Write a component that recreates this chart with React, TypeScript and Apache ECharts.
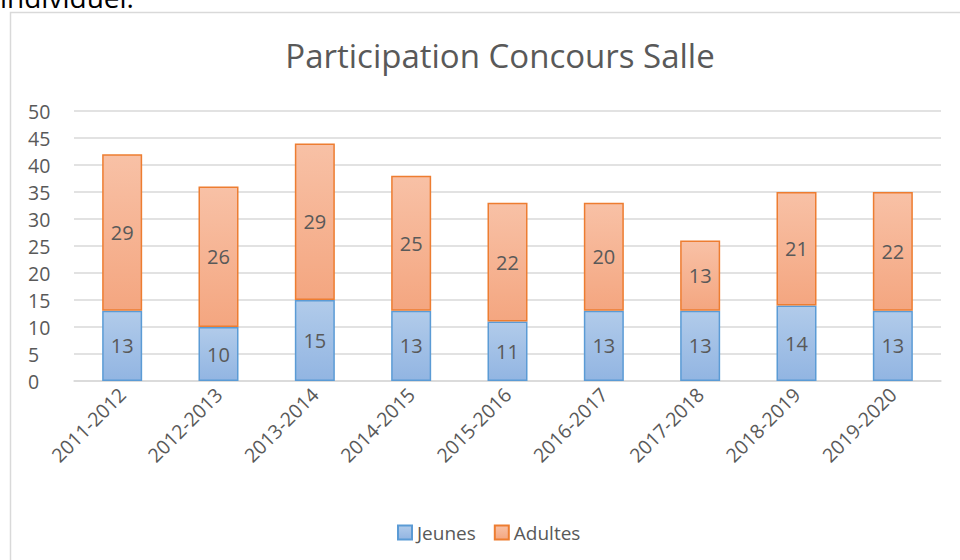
import React, { useEffect, useRef } from "react";
import * as echarts from "echarts";

const categories = ["2011-2012", "2012-2013", "2013-2014", "2014-2015", "2015-2016", "2016-2017", "2017-2018", "2018-2019", "2019-2020"];
const jeunes = [13, 10, 15, 13, 11, 13, 13, 14, 13];
const adultes = [29, 26, 29, 25, 22, 20, 13, 21, 22];
const chartTitle = "Participation Concours Salle";
const FONT = "'Open Sans', 'Noto Sans', sans-serif";

export default function App() {
  const ref = useRef<HTMLDivElement>(null);
  useEffect(() => {
    const chart = echarts.init(ref.current!, null, { renderer: "svg" });
    const blueGrad = new echarts.graphic.LinearGradient(0, 0, 0, 1, [
      { offset: 0, color: "#b1cbea" },
      { offset: 1, color: "#92b5e2" },
    ]);
    const orangeGrad = new echarts.graphic.LinearGradient(0, 0, 0, 1, [
      { offset: 0, color: "#f8c1a6" },
      { offset: 1, color: "#f4a680" },
    ]);
    chart.setOption({
      animation: false,
      backgroundColor: "#ffffff",
      title: {
        text: chartTitle,
        left: 495,
        textAlign: "center",
        top: 34,
        textStyle: { fontFamily: FONT, fontSize: 33, fontWeight: "normal", color: "#595959" },
      },
      graphic: [
        {
          type: "rect",
          shape: { x: 10.5, y: 12.5, width: 980, height: 600 },
          style: { fill: "none", stroke: "#d9d9d9", lineWidth: 1.5 },
          z: -1,
        },
        {
          type: "text",
          x: 0,
          y: 11,
          style: { text: "individuel.", font: "28px 'Open Sans', sans-serif", fill: "#000000", verticalAlign: "bottom" },
        },
      ],
      legend: {
        top: 518,
        left: 392,
        icon: "rect",
        itemWidth: 14,
        itemHeight: 14,
        itemGap: 18,
        textStyle: { fontFamily: FONT, fontSize: 19, color: "#595959", padding: [0, 0, 0, 0] },
        data: ["Jeunes", "Adultes"],
      },
      grid: { left: 74, right: 19, top: 111, bottom: 179, containLabel: false },
      xAxis: {
        type: "category",
        data: categories,
        axisLine: { lineStyle: { color: "#d9d9d9", width: 1.5 } },
        axisTick: { show: false },
        axisLabel: { rotate: 45, fontFamily: FONT, fontSize: 19.5, color: "#595959", margin: 10 },
      },
      yAxis: {
        type: "value",
        min: 0,
        max: 50,
        interval: 5,
        axisLine: { show: false },
        axisTick: { show: false },
        splitLine: { lineStyle: { color: "#d9d9d9", width: 1.5 } },
        axisLabel: { fontFamily: FONT, fontSize: 19.5, color: "#595959", margin: 46, align: "left" },
      },
      series: [
        {
          name: "Jeunes",
          type: "bar",
          stack: "total",
          barWidth: 40,
          data: jeunes,
          itemStyle: { color: blueGrad, borderColor: "#5b9bd5", borderWidth: 1.5 },
          label: { show: true, position: "inside", fontFamily: FONT, fontSize: 20, color: "#595959" },
        },
        {
          name: "Adultes",
          type: "bar",
          stack: "total",
          barWidth: 40,
          data: adultes,
          itemStyle: { color: orangeGrad, borderColor: "#ed7d31", borderWidth: 1.5 },
          label: { show: true, position: "inside", fontFamily: FONT, fontSize: 20, color: "#595959" },
        },
      ],
    });
    return () => chart.dispose();
  }, []);
  return <div ref={ref} style={{ position: "fixed", left: 0, top: 0, width: 960, height: 560 }} />;
}
